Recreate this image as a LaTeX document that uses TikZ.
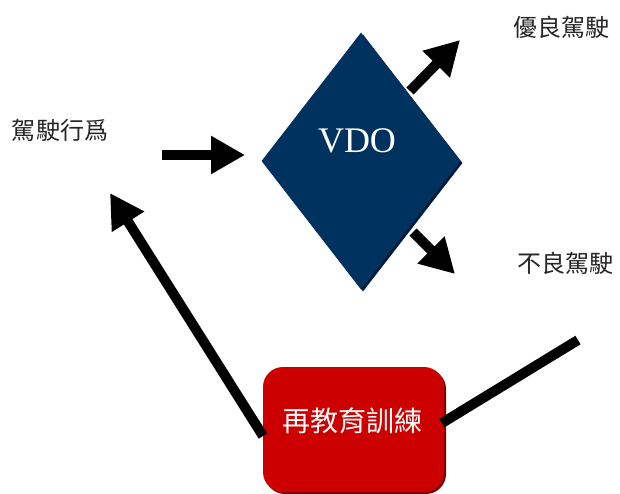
\documentclass[tikz,border=0pt]{standalone}
\usepackage{fontspec}
\setmainfont{Liberation Serif}
\newfontfamily\cjk{Noto Sans CJK TC}
\usetikzlibrary{arrows.meta,shapes.geometric}
\definecolor{vdoblue}{RGB}{0,50,96}
\definecolor{vdoshadow}{RGB}{0,28,56}
\definecolor{redbox}{RGB}{204,0,0}
\definecolor{redshadow}{RGB}{120,0,0}
\begin{document}
\begin{tikzpicture}[x=1pt,y=-1pt,
  blk/.style={line width=10pt,-{Triangle[length=34pt,width=36pt]}},
  bar/.style={line width=10pt},
  lbl/.style={font=\cjk\fontsize{24}{26}\selectfont,text=black!85,inner sep=0pt},
  dia/.style={diamond,minimum width=199pt,minimum height=257pt,inner sep=0pt,draw=none},
  boxst/.style={rounded corners=20pt,minimum width=181pt,minimum height=125pt,inner sep=0pt,draw=none}]
\useasboundingbox (0,0) rectangle (620,493);
\fill[white] (0,0) rectangle (620,493);
% diamond
\node[dia,fill=vdoshadow] (vdosh) at (363,163) {};
\node[dia,fill=vdoblue] (vdo) at (361,161) {};
\node[font=\fontsize{36}{40}\selectfont,text=white,inner sep=0pt] (vdot) at (357,141) {VDO};
% red box
\node[boxst,fill=redshadow] (resh) at (355.5,431.5) {};
\node[boxst,fill=redbox] (re) at (353.5,429.5) {};
\node[font=\cjk\fontsize{28}{30}\selectfont,text=white,inner sep=0pt] (ret) at (352,421) {再教育訓練};
% labels
\node[lbl] (l1) at (60,130) {駕駛行爲};
\node[lbl] (l2) at (561,27) {優良駕駛};
\node[lbl] (l3) at (565,263) {不良駕駛};
% arrows
\coordinate (a1s) at (162,155); \coordinate (a1e) at (245,155);
\coordinate (u1s) at (410,91);  \coordinate (u1e) at (460,40);
\coordinate (d1s) at (413,232); \coordinate (d1e) at (455,274);
\coordinate (l1s) at (263,436); \coordinate (l1e) at (110,193);
\coordinate (r1s) at (442,423); \coordinate (r1e) at (578,340);
\draw[blk] (a1s) -- (a1e);
\draw[blk] (u1s) -- (u1e);
\draw[blk] (d1s) -- (d1e);
\draw[blk] (l1s) -- (l1e);
\draw[bar] (r1s) -- (r1e);
\end{tikzpicture}
\end{document}
